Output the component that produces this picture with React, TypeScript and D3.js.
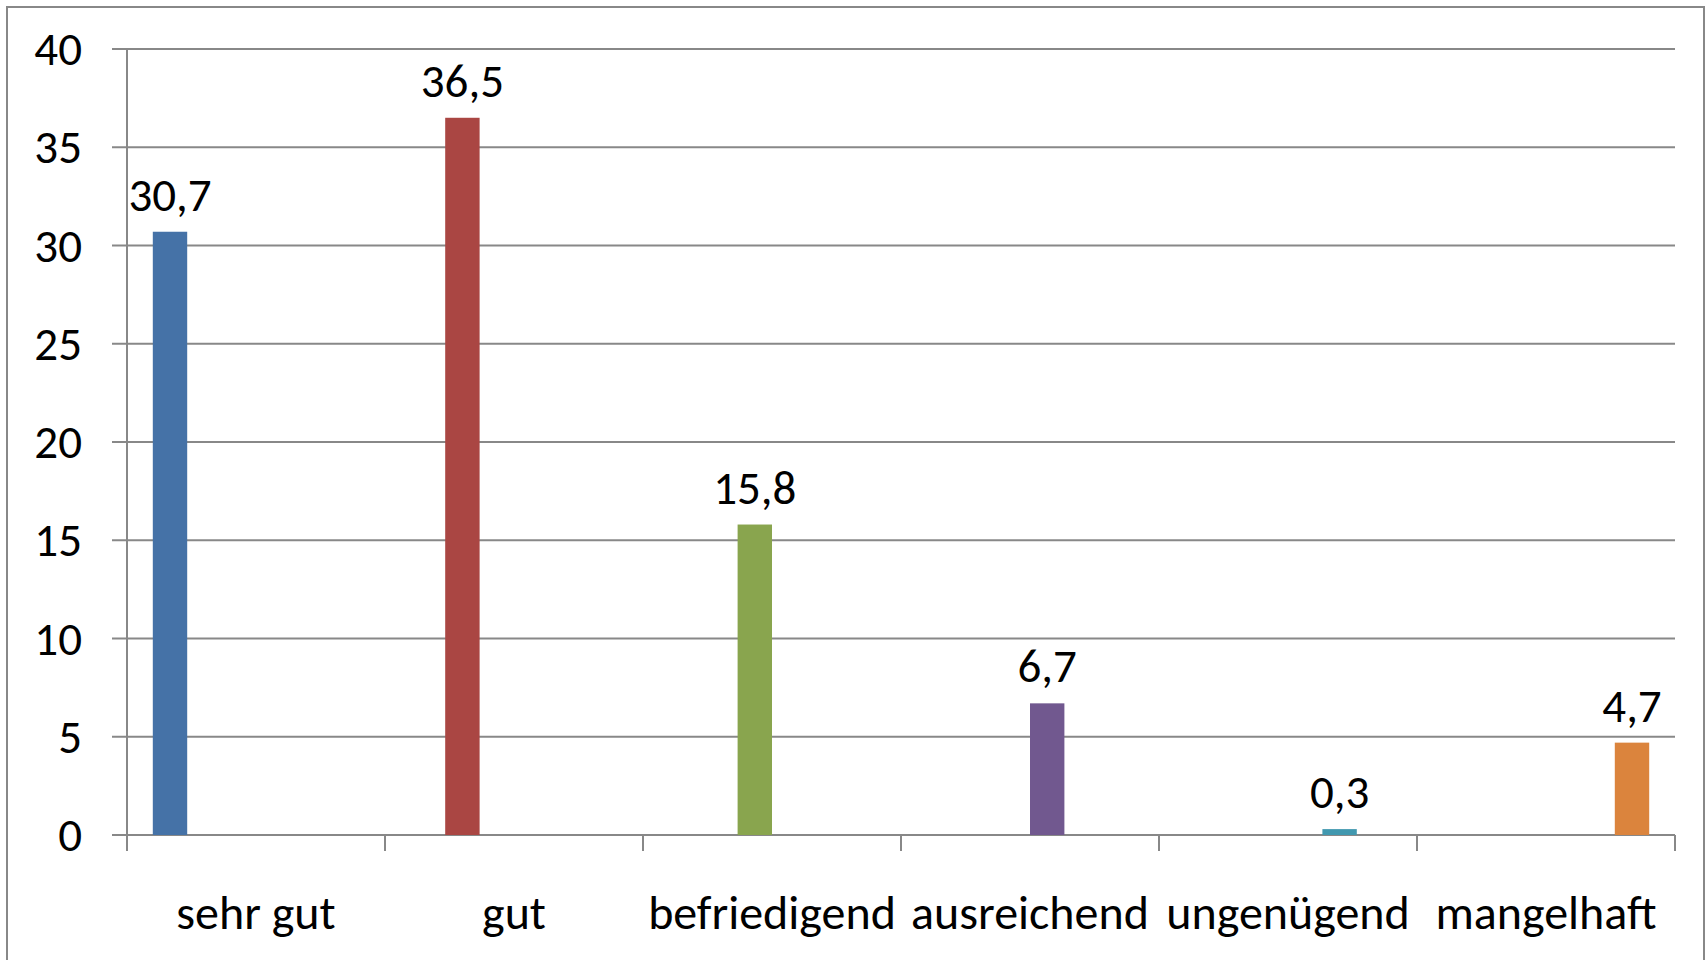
import React, { useEffect, useRef } from "react";
import * as d3 from "d3";

const categories = ["sehr gut", "gut", "befriedigend", "ausreichend", "ungenügend", "mangelhaft"];
const values = [30.7, 36.5, 15.8, 6.7, 0.3, 4.7];
const colors = ["#4572A7", "#AA4643", "#89A54E", "#71588F", "#4198AF", "#DB843D"];
const yTicks = [0, 5, 10, 15, 20, 25, 30, 35, 40];

const W = 1707;
const H = 960;
const FONT = "Carlito, Calibri, 'Liberation Sans Narrow', 'DejaVu Sans Condensed', sans-serif";

const App = () => {
  const svgRef = useRef<SVGSVGElement>(null);

  useEffect(() => {
    const svg = d3.select(svgRef.current);
    svg.selectAll("*").remove();

    const margin = { top: 49, right: 32, bottom: 125, left: 127 };
    const x = d3.scaleBand().domain(categories).range([margin.left, W - margin.right]);
    // each grade is its own series, so bars sit in a clustered slot (gap 150%)
    const inner = d3
      .scaleBand<number>()
      .domain(d3.range(categories.length))
      .range([0, x.bandwidth()])
      .paddingOuter(0.75)
      .paddingInner(0);
    const y = d3.scaleLinear().domain([0, 40]).range([H - margin.bottom, margin.top]);

    // outer frame
    svg
      .append("rect")
      .attr("x", 7)
      .attr("y", 7)
      .attr("width", W - 10)
      .attr("height", H + 20)
      .attr("fill", "#fff")
      .attr("stroke", "#888")
      .attr("stroke-width", 2);

    // gridlines + y ticks
    svg
      .append("g")
      .selectAll("line")
      .data(yTicks)
      .join("line")
      .attr("x1", margin.left - 15)
      .attr("x2", W - margin.right)
      .attr("y1", (d) => y(d))
      .attr("y2", (d) => y(d))
      .attr("stroke", "#888")
      .attr("stroke-width", 2);

    svg
      .append("g")
      .selectAll("text")
      .data(yTicks)
      .join("text")
      .attr("x", 82)
      .attr("y", (d) => y(d))
      .attr("text-anchor", "end")
      .attr("dominant-baseline", "central")
      .style("font-family", FONT)
      .style("font-size", "47px")
      .text((d) => d);

    // y axis line
    svg
      .append("line")
      .attr("x1", margin.left)
      .attr("x2", margin.left)
      .attr("y1", y(40))
      .attr("y2", y(0) + 16)
      .attr("stroke", "#888")
      .attr("stroke-width", 2);

    // x ticks between categories
    const bounds = categories.map((c) => (x(c) as number) + x.bandwidth());
    svg
      .append("g")
      .selectAll("line")
      .data(bounds)
      .join("line")
      .attr("x1", (d) => d)
      .attr("x2", (d) => d)
      .attr("y1", y(0))
      .attr("y2", y(0) + 16)
      .attr("stroke", "#888")
      .attr("stroke-width", 2);

    const bx = (i: number) => (x(categories[i]) as number) + (inner(i) as number);

    svg
      .append("g")
      .selectAll("rect")
      .data(values)
      .join("rect")
      .attr("x", (d, i) => bx(i))
      .attr("y", (d) => y(d))
      .attr("width", inner.bandwidth())
      .attr("height", (d) => y(0) - y(d))
      .attr("fill", (d, i) => colors[i]);

    svg
      .append("g")
      .selectAll("text")
      .data(values)
      .join("text")
      .attr("x", (d, i) => bx(i) + inner.bandwidth() / 2)
      .attr("y", (d) => y(d) - 21)
      .attr("text-anchor", "middle")
      .style("font-family", FONT)
      .style("font-size", "47px")
      .text((d) => d.toFixed(1).replace(".", ","));

    svg
      .append("g")
      .selectAll("text")
      .data(categories)
      .join("text")
      .attr("x", (d) => (x(d) as number) + x.bandwidth() / 2)
      .attr("y", 929)
      .attr("text-anchor", "middle")
      .style("font-family", FONT)
      .style("font-size", "48px")
      .text((d) => d);
  }, []);

  return (
    <svg
      ref={svgRef}
      width={W}
      height={H}
      style={{ position: "absolute", left: 0, top: 0, display: "block", background: "#fff" }}
    ></svg>
  );
};

export default App;
